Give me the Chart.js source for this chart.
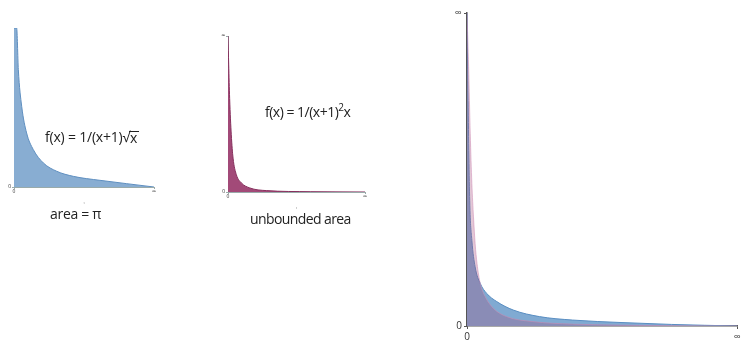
<!DOCTYPE html>
<html>
<head>
<meta charset="utf-8">
<script src="https://cdn.jsdelivr.net/npm/chart.js@4"></script>
<style>
  html, body { margin: 0; padding: 0; background: #fff; }
  body { width: 743px; height: 341px; position: relative; overflow: hidden; font-family: "Open Sans", "Noto Sans", sans-serif; color: #222; }
  canvas { position: absolute; }
  .lbl { position: absolute; white-space: nowrap; font-size: 14px; line-height: 16px; }
  .rad { display: inline-block; border-top: 1px solid #222; line-height: 11px; padding: 0 2px 0 1px; margin-left: -1px; vertical-align: -1px; }
  sup { font-size: 10px; vertical-align: 6px; line-height: 0; }
</style>
</head>
<body>
<canvas id="convChart" width="170" height="205" style="left:0;top:0"></canvas>
<canvas id="divChart" width="165" height="210" style="left:210px;top:0"></canvas>
<canvas id="bothChart" width="303" height="341" style="left:440px;top:0"></canvas>

<div class="lbl" style="left:45px;top:129px;letter-spacing:-0.2px">f(x) = 1/(x+1)√<span class="rad">x</span></div>
<div class="lbl" style="left:50px;top:206px;letter-spacing:-0.3px">area = π</div>
<div class="lbl" style="left:265px;top:104px;letter-spacing:-0.5px">f(x) = 1/(x+1)<sup>2</sup>x</div>
<div class="lbl" style="left:250px;top:211px;letter-spacing:-0.6px">unbounded area</div>

<script>
// Axis ends: 0 on the left/bottom, infinity on the right/top
const axisLabels = ['0', '∞'];

// 1/((x+1)·√x) — convergent, area = π
const convX = [0, 1.9, 3.1, 5.5, 9.0, 13.8, 21.0, 30.5, 42.4, 61.4, 80.5, 100];
const convY = [100, 100, 73.8, 50.7, 34.0, 23.5, 15.1, 9.9, 6.7, 4.2, 2.1, 0];

// 1/((x+1)²·x) — divergent, unbounded area
const divX = [0, 0.5, 1.2, 2.4, 3.7, 6.1, 9.8, 15.9, 28, 60, 100];
const divY = [100, 82, 60, 36.7, 21.7, 11.1, 5.8, 2.6, 0.9, 0.2, 0];

// Both curves on a common scale
const blueX = [0, 0.4, 1.0, 1.8, 3.0, 4.9, 7.3, 11.0, 17.1, 26.8, 39.0, 57.3, 75.6, 100];
const blueY = [100, 72, 40, 27.4, 18.9, 13.6, 10.4, 7.8, 5.1, 3.0, 1.9, 1.1, 0.5, 0];
const pinkX = [0, 0.6, 1.2, 1.8, 2.4, 3.0, 3.7, 4.9, 6.7, 9.8, 14.6, 24.4, 39.0, 63.4, 100];
const pinkY = [100, 82.8, 61.5, 45.5, 34.9, 26.4, 20.0, 13.6, 9.4, 5.6, 3.0, 1.4, 0.6, 0.2, 0];

const pts = (xs, ys) => xs.map((x, i) => ({ x, y: ys[i] }));

function area(xs, ys, fill, line, width) {
  return {
    data: pts(xs, ys),
    backgroundColor: fill,
    borderColor: line,
    borderWidth: width,
    fill: 'origin',
    pointRadius: 0,
    cubicInterpolationMode: 'monotone'
  };
}

function axis(opts) {
  const o = {
    type: 'linear', min: 0, max: 100,
    afterBuildTicks: s => { s.ticks = opts.tickValues.map(v => ({ value: v })); },
    ticks: {
      autoSkip: false, maxRotation: 0, padding: opts.tickPad,
      font: { size: opts.fontSize, family: '"Open Sans", sans-serif' },
      color: '#333',
      callback: v => (v === 0 ? axisLabels[0] : axisLabels[1])
    },
    grid: { display: true, drawOnChartArea: false, tickLength: opts.tickLen, color: opts.axisColor },
    border: { display: true, color: opts.axisColor, width: opts.axisWidth },
    afterFit: s => { if (opts.horizontal) s.height = opts.size; else s.width = opts.size; }
  };
  if (opts.title) {
    o.title = { display: true, text: opts.title, font: { size: 6 }, color: '#555', padding: 0 };
  }
  return o;
}

function panel(id, datasets, cfg) {
  new Chart(document.getElementById(id), {
    type: 'line',
    data: { datasets },
    options: {
      responsive: false,
      animation: false,
      layout: { padding: cfg.padding },
      plugins: { legend: { display: false }, tooltip: { enabled: false } },
      scales: {
        x: axis(Object.assign({ horizontal: true }, cfg.x)),
        y: axis(cfg.y)
      }
    }
  });
}

panel('convChart',
  [area(convX, convY, '#88add2', '#5f8fc0', 1)],
  {
    padding: { left: 0, right: 16, top: 28, bottom: 0 },
    x: { tickValues: [0, 100], tickPad: 0, fontSize: 5, tickLen: 2, axisColor: '#9aa', axisWidth: 1, size: 18, title: ',' },
    y: { tickValues: [0], tickPad: 1, fontSize: 5, tickLen: 2, axisColor: '#9aa', axisWidth: 1, size: 14 }
  });

panel('divChart',
  [area(divX, divY, '#a24a78', '#86305d', 1)],
  {
    padding: { left: 0, right: 10, top: 36, bottom: 0 },
    x: { tickValues: [0, 100], tickPad: 0, fontSize: 5, tickLen: 2, axisColor: '#9aa', axisWidth: 1, size: 18, title: ',' },
    y: { tickValues: [0, 100], tickPad: 1, fontSize: 5, tickLen: 2, axisColor: '#9aa', axisWidth: 1, size: 18 }
  });

panel('bothChart',
  [
    area(pinkX, pinkY, 'rgba(162,74,120,0.30)', 'rgba(205,140,180,0.55)', 1),
    area(blueX, blueY, '#80aad2', '#5a8ec2', 1)
  ],
  {
    padding: { left: 0, right: 3, top: 13, bottom: 1 },
    x: { tickValues: [0, 100], tickPad: 2, fontSize: 10, tickLen: 3, axisColor: '#555', axisWidth: 1.5, size: 14 },
    y: { tickValues: [0, 100], tickPad: 2, fontSize: 10, tickLen: 3, axisColor: '#555', axisWidth: 1.5, size: 27 }
  });
</script>
</body>
</html>
